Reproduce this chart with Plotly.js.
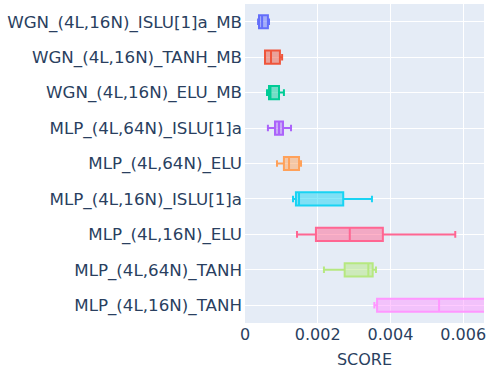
<!DOCTYPE html>
<html>
<head>
<meta charset="utf-8">
<script src="https://cdn.plot.ly/plotly-3.0.1.min.js"></script>
<style>
  html, body { margin: 0; padding: 0; background: #fff; }
  #chart { width: 495px; height: 375px; }
</style>
</head>
<body>
<div id="chart"></div>
<script>
// models, top to bottom
const models = [
    "WGN_(4L,16N)_ISLU[1]a_MB",
    "WGN_(4L,16N)_TANH_MB",
    "WGN_(4L,16N)_ELU_MB",
    "MLP_(4L,64N)_ISLU[1]a",
    "MLP_(4L,64N)_ELU",
    "MLP_(4L,16N)_ISLU[1]a",
    "MLP_(4L,16N)_ELU",
    "MLP_(4L,64N)_TANH",
    "MLP_(4L,16N)_TANH"
];

// box statistics
const lowers  = [0.00036, 0.00055, 0.000605, 0.00063, 0.00088, 0.00132, 0.00143, 0.00217, 0.003556];
const q1s     = [0.000385, 0.00055, 0.00066, 0.000825, 0.00107, 0.0014, 0.00195, 0.00274, 0.00363];
const medians = [0.00047, 0.000715, 0.0007, 0.000935, 0.00121, 0.001485, 0.00288, 0.00339, 0.005335];
const q3s     = [0.00063, 0.00096, 0.000935, 0.001045, 0.001485, 0.0027, 0.00379, 0.00351, 0.0078];
const uppers  = [0.00066, 0.00102, 0.00107, 0.001265, 0.00154, 0.00349, 0.00578, 0.0036, 0.0095];

const colors = ["#636efa", "#EF553B", "#00cc96", "#ab63fa", "#FFA15A",
                "#19d3f3", "#FF6692", "#B6E880", "#FF97FF"];

let traces = models.map(function(name, i) {
    return {
        type: "box", orientation: "h", name: name,
        y: [name], q1: [q1s[i]], median: [medians[i]], q3: [q3s[i]],
        lowerfence: [lowers[i]], upperfence: [uppers[i]],
        marker: {color: colors[i]}, line: {width: 2},
        showlegend: false,
    };
});

let layout = {
    width: 495, height: 375,
    margin: {l: 245, r: 11, t: 4, b: 52},
    paper_bgcolor: "#fff", plot_bgcolor: "#E5ECF6",
    font: {family: "DejaVu Sans, verdana, arial, sans-serif", size: 16, color: "#2a3f5f"},
    boxgap: 0.47,
    xaxis: {
        title: {text: "SCORE", font: {size: 16}, standoff: 10},
        range: [0, 0.00657], dtick: 0.002,
        gridcolor: "#fff", zeroline: false, ticks: "",
    },
    yaxis: {
        type: "category", autorange: "reversed",
        gridcolor: "#fff", ticks: "", tickfont: {size: 16.7},
        ticklabelstandoff: 2,
    },
};

Plotly.newPlot("chart", traces, layout, {displayModeBar: false});
</script>
</body>
</html>
